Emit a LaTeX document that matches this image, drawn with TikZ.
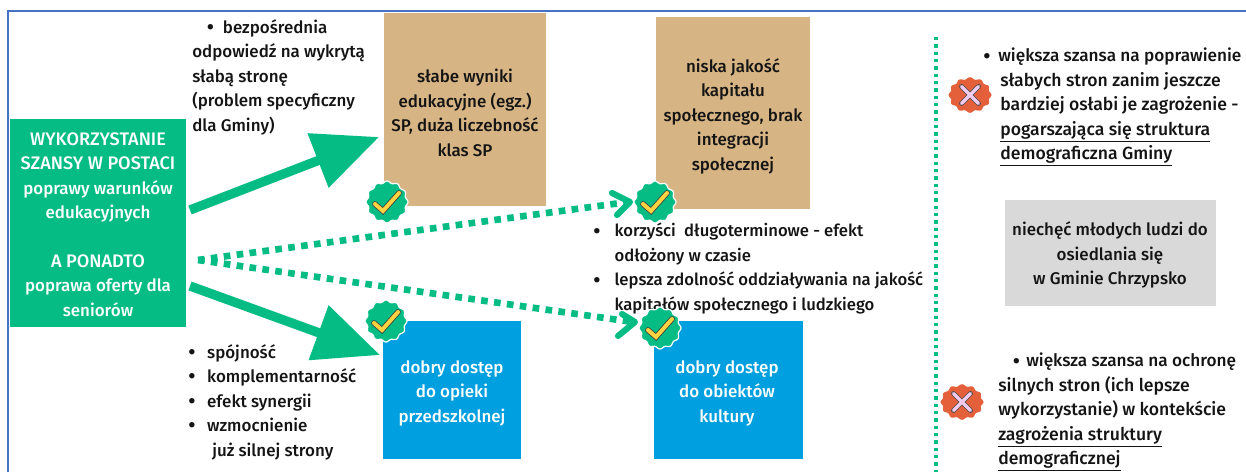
\documentclass[tikz,border=0pt]{standalone}
\usepackage{fontspec}
\setmainfont{Fira Sans Medium}
\usetikzlibrary{arrows.meta}
\definecolor{grn}{HTML}{05BC85}
\definecolor{tan1}{HTML}{D6B483}
\definecolor{blu}{HTML}{009FDF}
\definecolor{gry}{HTML}{D9D9D9}
\definecolor{org}{HTML}{E4603A}
\definecolor{chk}{HTML}{FFD23F}
\definecolor{pnk}{HTML}{F3CBEF}
\definecolor{frm}{HTML}{4472C4}
\definecolor{txt}{HTML}{141414}
\newcommand{\fsz}[1]{\fontsize{#1}{18.35pt}\selectfont}
\tikzset{
  x=0.75pt,y=-0.75pt,
  lbl/.style={text=txt,font=\fsz{12.7pt},inner sep=0pt,align=left,anchor=north west},
  rlbl/.style={text=txt,font=\fsz{13.2pt},inner sep=0pt,align=left,anchor=north west},
  ctr/.style={text=txt,font=\fsz{12.7pt},inner sep=0pt,align=center},
  wctr/.style={ctr,text=white},
  bigarrow/.style={draw=grn,line width=7pt,-{Triangle[length=49pt,width=42pt,fill=grn]}},
  dotarrow/.style={draw=grn,line width=5pt,dash pattern=on 5pt off 4.75pt},
  chev/.style={draw=grn,line width=4.6pt,line cap=round,line join=round},
}
\newcommand{\bl}[1]{\makebox[#1][l]{\raisebox{-0.9pt}{\fontsize{16pt}{16pt}\selectfont•}}}
\newcommand{\badge}[3]{% name, x, y
  \node[inner sep=0pt,minimum size=30pt] (#1) at (#2,#3) {};
  \fill[grn,draw=white,line width=0.9pt] plot[domain=0:360,samples=121,smooth] ({#2+(20+1.0*cos(12*\x))*cos(\x)},{#3+(20+1.0*cos(12*\x))*sin(\x)}) -- cycle;
  \draw[black!75,line width=4.2pt,line cap=round,line join=miter] (#2-12,#3+2) -- (#2-4,#3+9) -- (#2+12,#3-9);
  \draw[chk,line width=3pt,line cap=round,line join=miter] (#2-12,#3+2) -- (#2-4,#3+9) -- (#2+12,#3-9);
}
\newcommand{\xbadge}[3]{%
  \node[inner sep=0pt,minimum size=30pt] (#1) at (#2,#3) {};
  \fill[org] plot[domain=0:360,samples=121,smooth] ({#2+(20.5+1.0*cos(12*\x))*cos(\x)},{#3+(16.8+1.0*cos(12*\x))*sin(\x)}) -- cycle;
  \draw[black!70,line width=3.6pt,line cap=round] (#2-8.5,#3-8.5) -- (#2+8.5,#3+8.5) (#2-8.5,#3+8.5) -- (#2+8.5,#3-8.5);
  \draw[pnk,line width=2.6pt,line cap=round] (#2-8.5,#3-8.5) -- (#2+8.5,#3+8.5) (#2-8.5,#3+8.5) -- (#2+8.5,#3-8.5);
}
\newcommand{\ul}[1]{\underline{#1}}
\begin{document}
\begin{tikzpicture}
\useasboundingbox (0,0) rectangle (1246,472);
\fill[white] (0,0) rectangle (1246,472);
\draw[frm,line width=1.7pt] (8,472) -- (8,11) -- (1246,11);
% boxes
\fill[grn] (10,119) rectangle (186,327);
\node[wctr,anchor=north] (src) at (98,132) {{\fsz{13.6pt}WYKORZYSTANIE}\\{\fsz{13.6pt}SZANSY W POSTACI}\\poprawy warunków\\edukacyjnych\\[18.35pt]{\fsz{13.6pt}A PONADTO}\\poprawa oferty dla\\seniorów};
\fill[tan1] (384,13) rectangle (546,206);
\node[ctr] (t1) at (465,113) {słabe wyniki\\edukacyjne (egz.)\\SP, duża liczebność\\klas SP};
\fill[tan1] (656,17) rectangle (810,209);
\node[ctr] (t2) at (733,116) {niska jakość\\kapitału\\społecznego, brak\\integracji\\społecznej};
\fill[blu] (383,321) rectangle (521,459);
\node[wctr] (b1) at (452,393) {dobry dostęp\\do opieki\\przedszkolnej};
\fill[blu] (654,321) rectangle (803,459);
\node[wctr] (b2) at (727,393) {dobry dostęp\\do obiektów\\kultury};
\fill[gry] (1005,200) rectangle (1216,306);
\node[ctr] (g) at (1110,255) {niechęć młodych ludzi do\\osiedlania się\\w Gminie Chrzypsko};
% dotted separator
\coordinate (s1) at (936,37); \coordinate (s2) at (936,472);
\draw[grn,line width=2.6pt,dash pattern=on 2.6pt off 2.9pt] (s1) -- (s2);
% connectors
\coordinate (a1s) at (190,210); \coordinate (a1e) at (379,137);
\draw[bigarrow] (a1s) -- (a1e);
\coordinate (a2s) at (190,286); \coordinate (a2e) at (380,355);
\draw[bigarrow] (a2s) -- (a2e);
\coordinate (d0) at (198,260);
\coordinate (d1) at (628,202);
\coordinate (d2) at (633,322);
\draw[dotarrow] (d0) -- (d1);
\draw[dotarrow] (d0) -- (d2);
\draw[chev] (612,193) -- (630,202) -- (617,215);
\draw[chev] (622,314) -- (635,322) -- (618,336);
% texts
\node[lbl] (l1) at (192,19) {\hspace*{11pt}\bl{12pt}bezpośrednia\\odpowiedź na wykrytą\\słabą stronę\\(problem specyficzny\\dla Gminy)};
\node[lbl] (l2) at (188,344) {\bl{14.2pt}spójność\\\bl{14.2pt}komplementarność\\\bl{14.2pt}efekt synergii\\\bl{14.2pt}wzmocnienie\\\hspace*{18pt}już silnej strony};
\node[lbl,font=\fsz{12.5pt}] (l3) at (593,223) {\bl{16pt}korzyści\ \ długoterminowe - efekt\\\hspace*{16pt}odłożony w czasie\\\bl{16pt}lepsza zdolność oddziaływania na jakość\\\hspace*{16pt}kapitałów społecznego i ludzkiego};
\node[rlbl] (r1) at (983,48) {\makebox[12.8pt][l]{\raisebox{-0.9pt}{\fontsize{16pt}{16pt}\selectfont•}}{\fsz{12.9pt}\kern-1.5pt większa szansa na poprawienie}\\\hspace*{12.8pt}słabych stron zanim jeszcze\\\hspace*{12.8pt}bardziej osłabi je zagrożenie -\\\hspace*{12.8pt}\ul{pogarszająca się struktura}\\\hspace*{12.8pt}\ul{demograficzna Gminy}};
\node[rlbl] (r2) at (998,353) {\hspace*{11pt}\makebox[11.5pt][l]{\raisebox{-0.9pt}{\fontsize{16pt}{16pt}\selectfont•}}{\fsz{12.9pt}\kern-1.5pt większa szansa na ochronę}\\silnych stron (ich lepsze\\wykorzystanie) w kontekście\\\ul{zagrożenia struktury}\\\ul{demograficznej}};
% badges
\badge{c1}{387}{202}
\badge{c2}{655}{202}
\badge{c3}{386}{321}
\badge{c4}{660}{328}
\xbadge{x1}{970}{95}
\xbadge{x2}{962}{402}
\end{tikzpicture}
\end{document}
